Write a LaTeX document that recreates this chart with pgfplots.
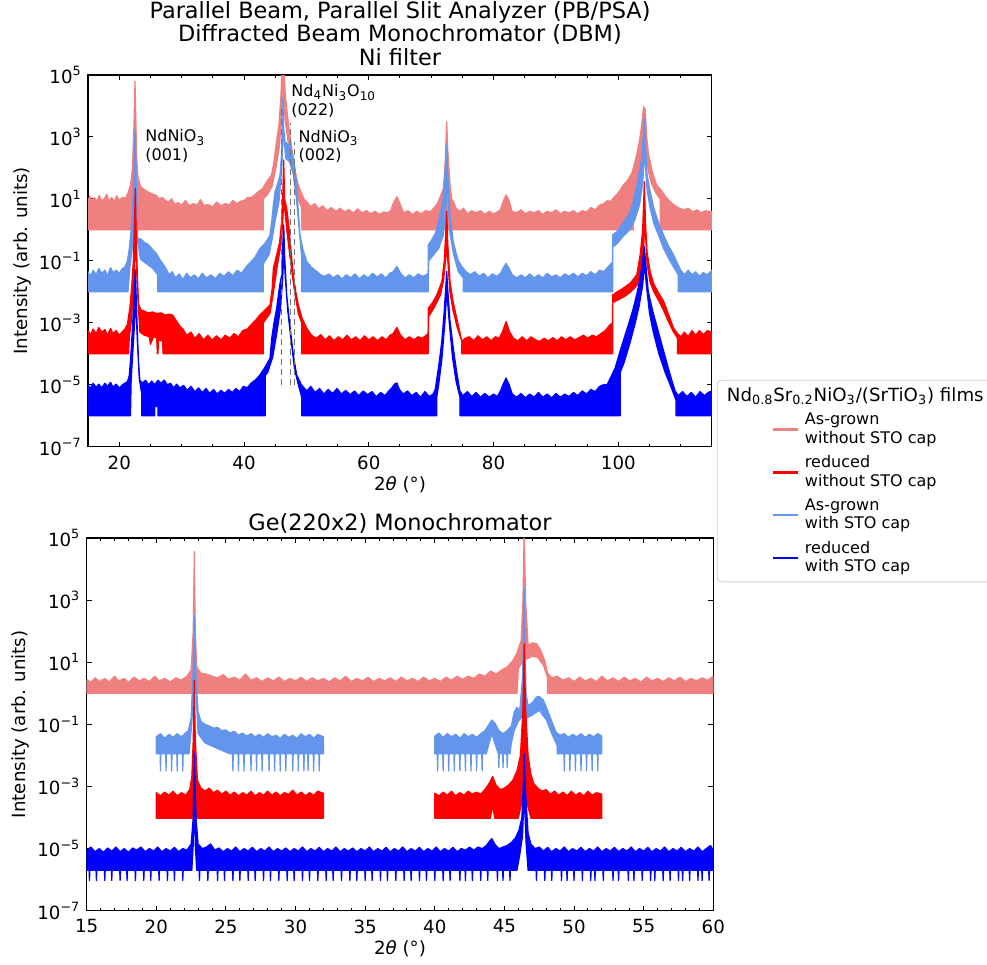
\documentclass[border=0pt]{standalone}
\usepackage{fontspec}
\setmainfont{DejaVu Sans}
\usepackage{pgfplots}
\pgfplotsset{compat=1.18}

\definecolor{agnocap}{HTML}{F08080}
\definecolor{rednocap}{HTML}{FF0000}
\definecolor{agcap}{HTML}{6495ED}
\definecolor{redcap}{HTML}{0000FF}

\newcommand{\mainfont}{\fontsize{9.1}{11.6}\selectfont}
\newcommand{\titlefont}{\fontsize{11.2}{13}\selectfont}
\newcommand{\smallfont}{\fontsize{8}{9.4}\selectfont}

\tikzset{
  band/.style={draw=#1, fill=#1, line width=0.6pt, line join=round},
  peakmark/.style={densely dashed, black!55, line width=0.5pt},
}

\begin{document}
\begin{tikzpicture}
\useasboundingbox (0pt,0pt) rectangle (493.5pt,-482.5pt);

% ---------------- Ni filter scan ----------------
\begin{axis}[
  scale only axis,
  at={(44.05pt,-223.35pt)}, anchor=south west,
  width=311.9pt, height=185.85pt,
  xmin=15, xmax=115,
  xtick={20,40,60,80,100},
  minor xtick={15,20,...,115},
  ymode=log,
  ymin=1e-7, ymax=1e5,
  ytick={1e-7,1e-5,1e-3,1e-1,1e1,1e3,1e5},
  yticklabels={10\textsuperscript{−7},10\textsuperscript{−5},10\textsuperscript{−3},10\textsuperscript{−1},10\textsuperscript{1},10\textsuperscript{3},10\textsuperscript{5}},
  yminorticks=false,
  tick align=inside,
  major tick length=2.6pt,
  minor tick length=1.5pt,
  tick style={black, line width=0.5pt},
  axis line style={line width=0.6pt},
  tick label style={font=\mainfont},
  /pgf/number format/assume math mode=true,
  xticklabel style={anchor=north, inner sep=0pt, yshift=-4.2pt},
  yticklabel style={anchor=east, inner sep=0pt, xshift=-3pt},
  label style={font=\mainfont},
  xlabel={2{\itshape θ} (°)},
  ylabel={Intensity (arb. units)},
  xlabel style={at={(axis description cs:0.5,-0.1165)}, anchor=base},
  ylabel style={at={(axis description cs:-0.1058,0.5)}, anchor=center},
  legend cell align=left,
  legend style={at={(1.008,0.18)}, anchor=north west,
    draw=black!20, rounded corners=2pt, fill=white,
    font=\smallfont, cells={align=left},
    nodes={inner sep=0pt},
    row sep=4.5pt, column sep=3pt,
    inner xsep=4pt, inner ysep=3.5pt},
  legend image code/.code={\path (-23.5pt,0pt); \draw[#1, line width=1.3pt] (0pt,0pt) -- (12.5pt,0pt);},
]

% As-grown, without STO cap
\addplot[band=agnocap, forget plot] table[row sep=\\, y expr={10^(\thisrow{L})}] {x L\\
15.0 0.95\\ 15.3 1.10\\ 15.6 0.90\\ 16.0 1.05\\ 16.4 0.92\\ 16.8 1.12\\ 17.1 0.95\\ 17.6 1.00\\ 18.0 1.15\\ 18.3 0.93\\
18.8 1.05\\ 19.2 0.92\\ 19.6 1.10\\ 20.0 0.95\\ 20.5 1.05\\ 21.0 1.02\\ 21.4 1.20\\ 21.8 1.45\\ 22.1 2.0\\ 22.35 3.4\\
22.52 4.8\\ 22.65 3.6\\ 22.8 2.3\\ 23.0 1.7\\ 23.4 1.40\\ 23.9 1.32\\ 24.4 1.25\\ 24.9 1.20\\ 25.4 1.15\\ 25.9 1.12\\
26.4 1.00\\ 26.9 1.05\\ 27.4 0.95\\ 27.9 0.90\\ 28.4 1.00\\ 28.9 0.82\\ 29.4 0.88\\ 30.0 0.80\\ 30.6 0.95\\ 31.2 0.78\\
31.8 0.85\\ 32.5 0.80\\ 33.0 0.98\\ 33.6 0.78\\ 34.2 0.82\\ 35.0 0.75\\ 35.6 0.90\\ 36.3 0.78\\ 37.0 0.85\\ 37.6 0.80\\
38.2 0.95\\ 38.8 0.85\\ 39.4 0.92\\ 40.0 0.95\\ 40.6 1.05\\ 41.2 1.05\\ 41.8 1.15\\ 42.4 1.25\\ 43.0 1.34\\ 43.6 1.55\\
44.4 1.77\\ 44.8 2.2\\ 45.2 2.85\\ 45.6 3.4\\ 45.9 4.3\\ 46.1 5.3\\ 46.4 5.3\\ 46.6 4.4\\ 46.84 3.92\\ 47.2 3.3\\
47.6 2.7\\ 47.9 2.31\\ 48.3 1.8\\ 48.7 1.45\\ 49.2 1.2\\ 49.6 1.0\\ 50.05 0.91\\ 50.7 0.75\\ 51.3 0.85\\ 52.0 0.68\\
52.6 0.78\\ 53.3 0.62\\ 54.0 0.72\\ 54.7 0.60\\ 55.4 0.70\\ 56.1 0.58\\ 56.8 0.66\\ 57.5 0.55\\ 58.2 0.68\\ 58.9 0.55\\
59.6 0.62\\ 60.3 0.52\\ 61.0 0.60\\ 61.7 0.50\\ 62.4 0.58\\ 63.0 0.55\\ 63.5 0.62\\ 63.9 0.85\\ 64.5 1.07\\ 65.1 0.80\\
65.6 0.55\\ 66.3 0.62\\ 67.0 0.50\\ 67.7 0.60\\ 68.4 0.52\\ 69.1 0.62\\ 69.8 0.58\\ 70.4 0.70\\ 71.0 0.85\\ 71.6 1.15\\
71.96 1.34\\ 72.25 2.2\\ 72.49 3.49\\ 72.65 2.6\\ 73.02 1.45\\ 73.3 1.0\\ 73.55 0.91\\ 74.0 0.7\\ 74.6 0.60\\ 75.2 0.70\\
75.8 0.52\\ 76.5 0.62\\ 77.2 0.55\\ 77.9 0.62\\ 78.6 0.50\\ 79.3 0.60\\ 80.0 0.52\\ 80.6 0.58\\ 81.1 0.65\\ 81.5 0.90\\
82.0 1.13\\ 82.5 0.95\\ 82.95 0.60\\ 83.7 0.55\\ 84.4 0.65\\ 85.1 0.52\\ 85.8 0.60\\ 86.5 0.55\\ 87.2 0.62\\ 87.9 0.50\\
88.6 0.60\\ 89.3 0.55\\ 90.0 0.65\\ 90.7 0.52\\ 91.4 0.60\\ 92.1 0.55\\ 92.8 0.62\\ 93.5 0.52\\ 94.2 0.62\\ 94.9 0.58\\
95.6 0.72\\ 96.3 0.65\\ 97.0 0.80\\ 97.7 0.85\\ 98.3 0.95\\ 98.7 0.91\\ 99.3 1.05\\ 100.0 1.2\\ 100.8 1.45\\ 101.5 1.6\\
102.2 1.85\\ 102.95 2.42\\ 103.4 2.9\\ 103.75 3.4\\ 104.05 3.98\\ 104.3 3.9\\ 104.55 3.0\\ 104.8 2.5\\ 105.4 1.9\\ 106.15 1.45\\
106.8 1.3\\ 107.5 1.1\\ 108.3 0.91\\ 109.0 0.80\\ 109.8 0.70\\ 110.5 0.65\\ 111.2 0.70\\ 111.9 0.58\\ 112.6 0.65\\ 113.3 0.55\\
114.0 0.62\\ 114.6 0.58\\ 115.0 0.60\\
115.0 0.0\\ 106.7 0.0\\ 106.7 1.0\\ 106.0 1.2\\ 105.3 1.5\\ 104.8 1.9\\ 104.4 2.6\\ 104.1 3.0\\ 103.8 2.3\\ 103.3 1.6\\
102.8 1.1\\ 102.4 0.9\\ 102.4 0.0\\ 49.24 0.0\\ 49.24 0.7\\ 48.7 1.0\\ 48.2 1.4\\ 47.7 2.0\\ 47.1 2.8\\ 46.6 3.5\\
46.3 4.5\\ 46.0 3.5\\ 45.6 2.6\\ 45.1 2.0\\ 44.5 1.4\\ 43.8 1.15\\ 43.09 1.0\\ 43.09 0.0\\ 25.3 0.0\\ 25.25 0.45\\
25.15 0.45\\ 25.1 0.0\\ 24.6 0.0\\ 24.55 0.5\\ 24.45 0.5\\ 24.4 0.0\\ 15.0 0.0\\
} -- cycle;

% As-grown, with STO cap
\addplot[band=agcap, forget plot] table[row sep=\\, y expr={10^(\thisrow{L})}] {x L\\
15.0 -1.35\\ 15.4 -1.50\\ 15.8 -1.30\\ 16.3 -1.45\\ 16.7 -1.25\\ 17.2 -1.40\\ 17.7 -1.30\\ 18.1 -1.48\\ 18.6 -1.22\\ 19.0 -1.38\\
19.5 -1.30\\ 20.0 -1.40\\ 20.5 -1.25\\ 20.9 -1.20\\ 21.3 -1.0\\ 21.6 -0.6\\ 21.9 0.0\\ 22.2 1.0\\ 22.4 2.4\\ 22.52 3.23\\
22.65 2.3\\ 22.8 0.5\\ 22.95 -0.27\\ 23.5 -0.30\\ 24.0 -0.40\\ 24.5 -0.45\\ 25.0 -0.55\\ 25.4 -0.65\\ 25.9 -0.75\\ 26.5 -0.95\\
27.0 -1.10\\ 27.5 -1.25\\ 28.0 -1.45\\ 28.5 -1.35\\ 29.0 -1.55\\ 29.6 -1.42\\ 30.2 -1.60\\ 30.8 -1.40\\ 31.4 -1.55\\ 32.0 -1.45\\
32.7 -1.58\\ 33.3 -1.40\\ 34.0 -1.55\\ 34.7 -1.45\\ 35.4 -1.58\\ 36.1 -1.40\\ 36.8 -1.50\\ 37.5 -1.35\\ 38.2 -1.48\\ 38.9 -1.30\\
39.6 -1.40\\ 40.3 -1.20\\ 41.0 -1.05\\ 41.7 -0.90\\ 42.56 -0.60\\ 43.3 -0.45\\ 43.8 -0.30\\ 44.16 -0.16\\ 44.45 0.3\\ 44.7 0.81\\
44.96 1.24\\ 45.4 1.5\\ 45.77 1.77\\ 46.0 2.4\\ 46.12 3.3\\ 46.22 4.25\\ 46.35 3.3\\ 46.55 2.85\\ 46.84 2.8\\ 47.37 2.74\\
47.9 2.31\\ 48.2 1.9\\ 48.44 1.45\\ 48.7 0.6\\ 48.97 -0.16\\ 49.4 -0.6\\ 50.05 -1.02\\ 50.8 -1.2\\ 51.65 -1.34\\ 52.3 -1.45\\
52.9 -1.50\\ 53.6 -1.42\\ 54.3 -1.55\\ 55.0 -1.45\\ 55.7 -1.58\\ 56.4 -1.45\\ 57.1 -1.55\\ 57.8 -1.42\\ 58.5 -1.58\\ 59.2 -1.45\\
59.9 -1.55\\ 60.6 -1.40\\ 61.3 -1.52\\ 62.0 -1.42\\ 62.7 -1.55\\ 63.4 -1.40\\ 63.9 -1.35\\ 64.5 -1.18\\ 65.1 -1.40\\ 65.8 -1.55\\
66.5 -1.45\\ 67.2 -1.55\\ 67.9 -1.42\\ 68.6 -1.50\\ 69.2 -1.45\\ 69.5 -1.40\\ 69.54 -0.48\\ 70.0 -0.35\\ 70.7 -0.1\\ 71.43 0.48\\
71.9 1.0\\ 72.2 1.77\\ 72.49 2.74\\ 72.65 1.8\\ 73.02 0.48\\ 73.55 -0.38\\ 74.0 -0.75\\ 74.35 -1.0\\ 75.15 -1.24\\ 75.6 -1.35\\
76.3 -1.45\\ 77.0 -1.35\\ 77.7 -1.50\\ 78.4 -1.40\\ 79.1 -1.55\\ 79.8 -1.42\\ 80.5 -1.50\\ 81.1 -1.40\\ 81.5 -1.25\\ 82.0 -1.08\\
82.5 -1.25\\ 83.0 -1.45\\ 83.7 -1.55\\ 84.4 -1.45\\ 85.1 -1.55\\ 85.8 -1.42\\ 86.5 -1.55\\ 87.2 -1.45\\ 87.9 -1.55\\ 88.6 -1.40\\
89.3 -1.52\\ 90.0 -1.45\\ 90.7 -1.55\\ 91.4 -1.42\\ 92.1 -1.50\\ 92.8 -1.40\\ 93.5 -1.52\\ 94.2 -1.40\\ 94.9 -1.48\\ 95.6 -1.35\\
96.3 -1.45\\ 97.0 -1.30\\ 97.7 -1.35\\ 98.3 -1.20\\ 98.8 -1.10\\ 99.05 -1.05\\ 99.1 -0.16\\ 99.8 -0.05\\ 100.5 0.15\\ 101.2 0.35\\
101.8 0.55\\ 102.4 0.91\\ 103.1 1.6\\ 103.75 2.31\\ 104.0 3.0\\ 104.17 3.6\\ 104.35 2.8\\ 104.6 1.8\\ 105.1 1.24\\ 105.7 0.7\\
106.5 0.2\\ 107.25 -0.16\\ 108.0 -0.5\\ 108.85 -0.80\\ 109.6 -1.13\\ 110.0 -1.30\\ 110.6 -1.45\\ 111.2 -1.30\\ 111.8 -1.45\\ 112.4 -1.35\\
113.0 -1.50\\ 113.6 -1.38\\ 114.3 -1.45\\ 115.0 -1.30\\
115.0 -2.0\\ 109.6 -2.0\\ 109.6 -1.45\\ 108.85 -1.2\\ 108.0 -0.9\\ 107.25 -0.6\\ 106.5 -0.2\\ 105.7 0.2\\ 105.1 0.7\\ 104.6 1.3\\
104.2 2.5\\ 103.9 1.5\\ 103.4 0.8\\ 102.6 0.3\\ 101.8 0.0\\ 100.8 -0.2\\ 99.8 -0.45\\ 99.1 -0.55\\ 99.1 -2.0\\ 75.15 -2.0\\
75.15 -1.55\\ 74.35 -1.35\\ 73.6 -0.8\\ 73.0 -0.1\\ 72.55 1.6\\ 72.3 0.5\\ 71.9 -0.2\\ 71.2 -0.6\\ 70.2 -0.85\\ 69.6 -1.0\\
69.54 -2.0\\ 49.24 -2.0\\ 49.24 -0.9\\ 48.8 0.1\\ 48.4 1.0\\ 47.9 1.8\\ 47.3 2.2\\ 46.7 2.3\\ 46.3 3.2\\ 46.05 2.0\\
45.6 0.9\\ 45.0 0.3\\ 44.5 -0.3\\ 44.0 -0.8\\ 43.09 -1.1\\ 43.09 -2.0\\ 26.16 -2.0\\ 26.16 -1.45\\ 25.4 -1.25\\ 24.4 -1.1\\
23.4 -0.95\\ 22.9 -0.3\\ 22.65 1.2\\ 22.45 0.8\\ 22.2 -0.4\\ 21.7 -1.2\\ 21.4 -2.0\\ 15.0 -2.0\\
} -- cycle;

% reduced, without STO cap
\addplot[band=rednocap, forget plot] table[row sep=\\, y expr={10^(\thisrow{L})}] {x L\\
15.0 -3.25\\ 15.4 -3.40\\ 15.8 -3.20\\ 16.3 -3.35\\ 16.7 -3.15\\ 17.2 -3.30\\ 17.7 -3.22\\ 18.1 -3.40\\ 18.6 -3.18\\ 19.0 -3.35\\
19.5 -3.25\\ 20.0 -3.40\\ 20.5 -3.28\\ 20.9 -3.20\\ 21.3 -3.05\\ 21.7 -2.5\\ 22.0 -1.8\\ 22.25 -1.0\\ 22.4 0.0\\ 22.57 1.34\\
22.7 0.0\\ 22.9 -1.5\\ 23.1 -2.4\\ 23.48 -2.58\\ 24.0 -2.62\\ 24.6 -2.68\\ 25.3 -2.65\\ 26.0 -2.70\\ 26.7 -2.68\\ 27.4 -2.75\\
28.0 -2.72\\ 28.56 -2.75\\ 29.2 -2.95\\ 29.7 -3.10\\ 30.2 -3.20\\ 30.8 -3.40\\ 31.5 -3.30\\ 32.1 -3.50\\ 32.8 -3.35\\ 33.5 -3.55\\
34.2 -3.40\\ 34.9 -3.55\\ 35.6 -3.42\\ 36.3 -3.55\\ 37.0 -3.40\\ 37.7 -3.50\\ 38.4 -3.35\\ 39.1 -3.45\\ 39.8 -3.25\\ 40.5 -3.20\\
41.2 -3.05\\ 41.9 -2.90\\ 42.56 -2.74\\ 43.3 -2.60\\ 44.16 -2.42\\ 44.5 -1.9\\ 44.7 -1.24\\ 45.23 -0.80\\ 45.7 -0.4\\ 46.04 0.3\\
46.22 1.2\\ 46.36 2.26\\ 46.5 1.0\\ 46.84 0.70\\ 47.2 0.1\\ 47.5 -0.6\\ 47.9 -1.45\\ 48.3 -2.0\\ 48.7 -2.42\\ 49.3 -2.85\\
50.05 -3.17\\ 50.8 -3.40\\ 51.6 -3.50\\ 52.3 -3.38\\ 53.0 -3.55\\ 53.7 -3.42\\ 54.4 -3.58\\ 55.1 -3.45\\ 55.8 -3.55\\ 56.5 -3.40\\
57.2 -3.55\\ 57.9 -3.45\\ 58.6 -3.58\\ 59.3 -3.42\\ 60.0 -3.55\\ 60.7 -3.45\\ 61.4 -3.58\\ 62.1 -3.45\\ 62.8 -3.55\\ 63.4 -3.40\\
63.9 -3.35\\ 64.5 -3.15\\ 65.1 -3.40\\ 65.8 -3.55\\ 66.5 -3.45\\ 67.2 -3.55\\ 67.9 -3.45\\ 68.6 -3.50\\ 69.2 -3.40\\ 69.5 -3.35\\
69.54 -2.53\\ 70.2 -2.35\\ 70.9 -2.1\\ 71.7 -1.67\\ 72.1 -1.0\\ 72.35 0.0\\ 72.49 0.6\\ 72.65 -0.4\\ 73.02 -1.67\\ 73.5 -2.3\\
74.1 -2.85\\ 74.6 -3.3\\ 74.9 -3.6\\ 75.4 -3.50\\ 76.1 -3.45\\ 76.8 -3.58\\ 77.5 -3.42\\ 78.2 -3.55\\ 78.9 -3.45\\ 79.6 -3.58\\
80.3 -3.45\\ 80.9 -3.50\\ 81.4 -3.30\\ 82.0 -2.96\\ 82.6 -3.30\\ 83.2 -3.50\\ 83.9 -3.58\\ 84.6 -3.45\\ 85.3 -3.58\\ 86.0 -3.45\\
86.7 -3.55\\ 87.4 -3.60\\ 88.1 -3.50\\ 88.8 -3.58\\ 89.5 -3.48\\ 90.2 -3.58\\ 90.9 -3.45\\ 91.6 -3.55\\ 92.3 -3.45\\ 93.0 -3.55\\
93.7 -3.48\\ 94.4 -3.40\\ 95.1 -3.50\\ 95.8 -3.40\\ 96.5 -3.45\\ 97.2 -3.35\\ 97.9 -3.25\\ 98.5 -3.10\\ 99.05 -3.00\\ 99.1 -2.10\\
99.8 -2.0\\ 100.5 -1.92\\ 101.2 -1.82\\ 102.0 -1.70\\ 102.95 -1.45\\ 103.5 -0.80\\ 103.9 0.0\\ 104.17 1.56\\ 104.35 0.3\\ 104.6 -0.7\\
105.1 -1.34\\ 105.7 -1.75\\ 106.5 -2.05\\ 107.25 -2.30\\ 108.0 -2.7\\ 108.85 -3.17\\ 109.5 -3.35\\ 110.0 -3.45\\ 110.6 -3.30\\ 111.2 -3.45\\
111.8 -3.25\\ 112.4 -3.40\\ 113.0 -3.25\\ 113.6 -3.38\\ 114.3 -3.25\\ 115.0 -3.30\\
115.0 -4.0\\ 109.5 -4.0\\ 109.5 -3.5\\ 108.85 -3.3\\ 108.0 -2.95\\ 107.25 -2.6\\ 106.5 -2.3\\ 105.7 -2.0\\ 105.1 -1.7\\ 104.6 -1.1\\
104.25 0.3\\ 104.0 -0.9\\ 103.5 -1.5\\ 102.95 -1.8\\ 102.0 -2.0\\ 101.0 -2.15\\ 99.1 -2.35\\ 99.1 -4.0\\ 74.9 -4.0\\ 74.9 -3.6\\
74.1 -3.1\\ 73.5 -2.6\\ 73.0 -2.0\\ 72.6 -0.8\\ 72.4 -0.8\\ 72.0 -1.6\\ 71.5 -2.1\\ 70.5 -2.5\\ 69.6 -2.8\\ 69.54 -4.0\\
49.24 -4.0\\ 49.24 -3.0\\ 48.7 -2.7\\ 48.1 -2.0\\ 47.5 -1.1\\ 46.9 -0.1\\ 46.5 0.7\\ 46.36 1.0\\ 46.2 0.2\\ 45.9 -0.5\\
45.3 -1.2\\ 44.8 -1.9\\ 44.16 -2.7\\ 43.09 -3.0\\ 43.09 -4.0\\ 27.0 -4.0\\ 26.96 -3.6\\ 26.3 -3.55\\ 26.2 -4.0\\ 26.1 -4.0\\
26.0 -3.5\\ 25.5 -3.45\\ 25.0 -3.7\\ 24.8 -3.45\\ 24.0 -3.4\\ 23.3 -3.3\\ 22.9 -2.0\\ 22.65 -0.5\\ 22.5 -0.8\\ 22.3 -2.0\\
21.9 -3.0\\ 21.6 -3.5\\ 21.5 -4.0\\ 15.0 -4.0\\
} -- cycle;

% reduced, with STO cap
\addplot[band=redcap, forget plot] table[row sep=\\, y expr={10^(\thisrow{L})}] {x L\\
15.0 -5.00\\ 15.4 -5.12\\ 15.8 -4.95\\ 16.3 -5.08\\ 16.7 -4.98\\ 17.2 -5.10\\ 17.7 -4.95\\ 18.1 -5.05\\ 18.6 -4.92\\ 19.0 -5.08\\
19.5 -4.98\\ 20.0 -5.10\\ 20.5 -5.00\\ 20.9 -4.95\\ 21.3 -4.90\\ 21.6 -4.70\\ 21.8 -4.2\\ 22.1 -3.2\\ 22.35 -2.2\\ 22.57 -1.29\\
22.72 -2.2\\ 22.9 -3.3\\ 23.1 -4.3\\ 23.3 -4.85\\ 23.7 -4.95\\ 24.2 -4.85\\ 24.7 -5.00\\ 25.2 -4.88\\ 25.7 -5.00\\ 26.2 -4.85\\
26.7 -4.95\\ 27.2 -4.85\\ 27.7 -5.00\\ 28.2 -4.95\\ 28.7 -5.10\\ 29.2 -4.98\\ 29.7 -5.10\\ 30.3 -5.02\\ 30.9 -5.18\\ 31.5 -5.05\\
32.1 -5.22\\ 32.7 -5.10\\ 33.3 -5.25\\ 33.9 -5.12\\ 34.5 -5.28\\ 35.1 -5.15\\ 35.7 -5.30\\ 36.3 -5.18\\ 36.9 -5.28\\ 37.5 -5.15\\
38.1 -5.25\\ 38.7 -5.12\\ 39.3 -5.22\\ 39.9 -5.05\\ 40.5 -5.10\\ 41.1 -4.95\\ 41.8 -4.85\\ 42.56 -4.68\\ 43.3 -4.45\\ 44.16 -4.14\\
44.43 -3.50\\ 44.8 -3.0\\ 45.23 -2.53\\ 45.7 -1.8\\ 46.04 -1.45\\ 46.2 -0.5\\ 46.36 0.16\\ 46.5 -0.8\\ 46.84 -2.1\\ 47.3 -3.0\\
47.9 -4.03\\ 48.44 -4.68\\ 49.2 -5.0\\ 50.05 -5.2\\ 50.7 -5.05\\ 51.4 -5.25\\ 52.1 -5.12\\ 52.8 -5.30\\ 53.5 -5.15\\ 54.2 -5.28\\
54.9 -5.12\\ 55.6 -5.30\\ 56.3 -5.18\\ 57.0 -5.32\\ 57.7 -5.20\\ 58.4 -5.35\\ 59.1 -5.20\\ 59.8 -5.32\\ 60.5 -5.22\\ 61.2 -5.38\\
61.9 -5.25\\ 62.6 -5.35\\ 63.2 -5.20\\ 63.7 -5.10\\ 64.1 -4.98\\ 64.5 -4.94\\ 64.9 -5.15\\ 65.5 -5.30\\ 66.2 -5.20\\ 66.9 -5.35\\
67.6 -5.25\\ 68.3 -5.40\\ 69.0 -5.22\\ 69.7 -5.38\\ 70.3 -5.30\\ 70.64 -5.15\\ 71.2 -4.4\\ 71.7 -3.6\\ 72.1 -2.6\\ 72.35 -1.8\\
72.49 -1.34\\ 72.65 -1.9\\ 73.0 -2.9\\ 73.55 -3.82\\ 74.1 -4.6\\ 74.6 -5.2\\ 75.1 -5.35\\ 75.8 -5.22\\ 76.5 -5.38\\ 77.2 -5.25\\
77.9 -5.40\\ 78.6 -5.28\\ 79.3 -5.40\\ 80.0 -5.30\\ 80.6 -5.38\\ 81.1 -5.20\\ 81.5 -5.00\\ 82.0 -4.78\\ 82.5 -5.00\\ 83.0 -5.30\\
83.7 -5.40\\ 84.4 -5.28\\ 85.1 -5.42\\ 85.8 -5.30\\ 86.5 -5.40\\ 87.2 -5.25\\ 87.9 -5.40\\ 88.6 -5.30\\ 89.3 -5.42\\ 90.0 -5.28\\
90.7 -5.40\\ 91.4 -5.30\\ 92.1 -5.38\\ 92.8 -5.25\\ 93.5 -5.35\\ 94.2 -5.20\\ 94.9 -5.30\\ 95.6 -5.15\\ 96.3 -5.22\\ 97.0 -5.05\\
97.6 -5.00\\ 98.2 -5.00\\ 98.8 -4.75\\ 99.5 -4.45\\ 100.3 -3.90\\ 101.0 -3.45\\ 101.7 -3.00\\ 102.4 -2.53\\ 103.1 -1.95\\ 103.75 -1.24\\
104.0 -0.8\\ 104.17 -0.54\\ 104.35 -1.0\\ 104.8 -1.99\\ 105.5 -2.6\\ 106.3 -3.2\\ 107.25 -3.9\\ 108.2 -4.6\\ 109.1 -5.2\\ 109.6 -5.35\\
110.3 -5.22\\ 111.0 -5.38\\ 111.7 -5.25\\ 112.4 -5.40\\ 113.1 -5.22\\ 113.8 -5.35\\ 114.4 -5.25\\ 115.0 -5.20\\
115.0 -6.0\\ 109.25 -6.0\\ 109.25 -5.5\\ 108.5 -5.1\\ 107.5 -4.6\\ 106.5 -4.0\\ 105.6 -3.3\\ 105.0 -2.7\\ 104.5 -1.8\\ 104.2 -1.1\\
103.9 -1.8\\ 103.3 -2.5\\ 102.6 -3.1\\ 101.8 -3.7\\ 100.9 -4.3\\ 100.3 -4.6\\ 100.3 -6.0\\ 74.6 -6.0\\ 74.6 -5.4\\ 74.0 -4.9\\
73.4 -4.1\\ 72.9 -3.0\\ 72.5 -2.0\\ 72.2 -3.0\\ 71.7 -4.2\\ 71.2 -5.0\\ 70.9 -5.4\\ 70.9 -6.0\\ 49.24 -6.0\\ 49.24 -5.4\\
48.7 -5.0\\ 48.1 -4.5\\ 47.5 -3.5\\ 47.0 -2.6\\ 46.6 -1.5\\ 46.38 -0.7\\ 46.2 -1.6\\ 45.8 -2.6\\ 45.2 -3.4\\ 44.6 -4.1\\
43.8 -4.6\\ 43.4 -4.7\\ 43.4 -6.0\\ 26.2 -6.0\\ 26.2 -5.7\\ 25.7 -5.7\\ 25.7 -6.0\\ 23.6 -6.0\\ 23.6 -5.3\\ 23.2 -4.8\\
22.9 -3.6\\ 22.6 -2.2\\ 22.4 -3.2\\ 22.1 -4.2\\ 21.9 -4.9\\ 21.8 -6.0\\ 15.0 -6.0\\
} -- cycle;

% reflection positions
\addplot[peakmark, forget plot] coordinates {(46.04,1e-5) (46.04,8e3)};
\addplot[peakmark, forget plot] coordinates {(47.37,1e-5) (47.37,2.75e3)};
\addplot[peakmark, forget plot] coordinates {(48.06,1e-5) (48.06,7e2)};

\node[anchor=west, align=left, inner sep=0pt, font=\smallfont] at (axis cs:24.12,5e2) {NdNiO\textsubscript{3}\\(001)};
\node[anchor=west, align=left, inner sep=0pt, font=\smallfont] at (axis cs:47.53,1.45e4) {Nd\textsubscript{4}Ni\textsubscript{3}O\textsubscript{10}\\(022)};
\node[anchor=west, align=left, inner sep=0pt, font=\smallfont] at (axis cs:48.7,4.9e2) {NdNiO\textsubscript{3}\\(002)};

\addlegendimage{empty legend}
\addlegendentry{\mainfont\hspace*{-39pt}Nd\textsubscript{0.8}Sr\textsubscript{0.2}NiO\textsubscript{3}/(SrTiO\textsubscript{3}) films\rule[-3.6pt]{0pt}{0pt}}
\addlegendimage{agnocap}
\addlegendentry{As-grown\\without STO cap}
\addlegendimage{rednocap}
\addlegendentry{reduced\\without STO cap}
\addlegendimage{agcap}
\addlegendentry{As-grown\\with STO cap}
\addlegendimage{redcap}
\addlegendentry{reduced\\with STO cap}
\end{axis}

% ---------------- Ge(220x2) monochromator scan ----------------
\begin{axis}[
  scale only axis,
  at={(43.35pt,-455.35pt)}, anchor=south west,
  width=313.3pt, height=186.35pt,
  xmin=15, xmax=60,
  xtick={15,20,...,60},
  minor xtick={15,16,...,60},
  ymode=log,
  ymin=1e-7, ymax=1e5,
  ytick={1e-7,1e-5,1e-3,1e-1,1e1,1e3,1e5},
  yticklabels={10\textsuperscript{−7},10\textsuperscript{−5},10\textsuperscript{−3},10\textsuperscript{−1},10\textsuperscript{1},10\textsuperscript{3},10\textsuperscript{5}},
  yminorticks=false,
  tick align=inside,
  major tick length=2.6pt,
  minor tick length=1.5pt,
  tick style={black, line width=0.5pt},
  axis line style={line width=0.6pt},
  tick label style={font=\mainfont},
  /pgf/number format/assume math mode=true,
  xticklabel style={anchor=north, inner sep=0pt, yshift=-4.2pt},
  yticklabel style={anchor=east, inner sep=0pt, xshift=-3pt},
  label style={font=\mainfont},
  xlabel={2{\itshape θ} (°)},
  ylabel={Intensity (arb. units)},
  xlabel style={at={(axis description cs:0.5,-0.1162)}, anchor=base},
  ylabel style={at={(axis description cs:-0.1053,0.5)}, anchor=center},
]

% As-grown, without STO cap
\addplot[band=agnocap, forget plot] table[row sep=\\, y expr={10^(\thisrow{L})}] {x L\\
15.0 0.45\\ 15.3 0.35\\ 15.6 0.50\\ 15.9 0.38\\ 16.3 0.48\\ 16.6 0.36\\ 17.0 0.55\\ 17.3 0.40\\ 17.7 0.48\\ 18.0 0.35\\
18.4 0.52\\ 18.8 0.40\\ 19.1 0.48\\ 19.5 0.38\\ 19.9 0.55\\ 20.2 0.40\\ 20.6 0.48\\ 21.0 0.36\\ 21.4 0.50\\ 21.8 0.42\\
22.2 0.55\\ 22.5 0.75\\ 22.65 2.0\\ 22.73 4.56\\ 22.8 2.0\\ 22.9 0.85\\ 23.2 0.65\\ 23.6 0.62\\ 24.0 0.55\\ 24.4 0.50\\
24.8 0.60\\ 25.2 0.45\\ 25.6 0.52\\ 26.0 0.42\\ 26.4 0.62\\ 26.8 0.42\\ 27.2 0.50\\ 27.6 0.38\\ 28.0 0.50\\ 28.4 0.40\\
28.8 0.52\\ 29.2 0.38\\ 29.6 0.48\\ 30.0 0.40\\ 30.4 0.52\\ 30.8 0.38\\ 31.2 0.50\\ 31.6 0.40\\ 32.0 0.48\\ 32.4 0.36\\
32.8 0.50\\ 33.2 0.40\\ 33.6 0.55\\ 34.0 0.38\\ 34.4 0.48\\ 34.8 0.40\\ 35.2 0.52\\ 35.6 0.38\\ 36.0 0.48\\ 36.4 0.40\\
36.8 0.50\\ 37.2 0.38\\ 37.6 0.52\\ 38.0 0.40\\ 38.4 0.48\\ 38.8 0.38\\ 39.2 0.52\\ 39.6 0.40\\ 40.0 0.48\\ 40.4 0.38\\
40.8 0.52\\ 41.2 0.42\\ 41.6 0.55\\ 42.0 0.45\\ 42.4 0.55\\ 42.8 0.48\\ 43.2 0.62\\ 43.6 0.55\\ 44.0 0.72\\ 44.4 0.62\\
44.8 0.75\\ 45.2 0.85\\ 45.6 1.05\\ 45.9 1.30\\ 46.2 1.70\\ 46.33 3.0\\ 46.42 5.3\\ 46.52 3.0\\ 46.7 1.55\\ 47.0 1.62\\
47.3 1.60\\ 47.6 1.40\\ 47.9 1.05\\ 48.1 0.65\\ 48.4 0.50\\ 48.8 0.55\\ 49.2 0.42\\ 49.6 0.50\\ 50.0 0.38\\ 50.4 0.52\\
50.8 0.40\\ 51.2 0.48\\ 51.6 0.38\\ 52.0 0.55\\ 52.4 0.40\\ 52.8 0.50\\ 53.2 0.38\\ 53.6 0.52\\ 54.0 0.40\\ 54.4 0.48\\
54.8 0.36\\ 55.2 0.52\\ 55.6 0.40\\ 56.0 0.48\\ 56.4 0.38\\ 56.8 0.50\\ 57.2 0.40\\ 57.6 0.52\\ 58.0 0.38\\ 58.4 0.48\\
58.8 0.40\\ 59.2 0.50\\ 59.6 0.42\\ 60.0 0.55\\
60.0 0.0\\ 48.1 0.0\\ 48.1 0.5\\ 47.8 0.9\\ 47.4 1.15\\ 47.0 1.2\\ 46.6 1.1\\ 46.42 2.0\\ 46.3 1.0\\ 46.0 0.8\\
45.9 0.0\\ 15.0 0.0\\
} -- cycle;

% As-grown, with STO cap (two scan windows)
\addplot[band=agcap, forget plot] table[row sep=\\, y expr={10^(\thisrow{L})}] {x L\\
20.0 -1.40\\ 20.3 -1.30\\ 20.6 -1.45\\ 20.9 -1.32\\ 21.2 -1.42\\ 21.5 -1.30\\ 21.8 -1.40\\ 22.1 -1.28\\ 22.3 -1.20\\ 22.5 -0.8\\
22.65 0.8\\ 22.73 2.52\\ 22.85 0.5\\ 23.0 -0.6\\ 23.2 -0.90\\ 23.5 -1.00\\ 23.8 -1.05\\ 24.1 -1.12\\ 24.4 -1.10\\ 24.7 -1.20\\
25.0 -1.18\\ 25.3 -1.28\\ 25.6 -1.22\\ 25.9 -1.35\\ 26.2 -1.28\\ 26.5 -1.38\\ 26.8 -1.30\\ 27.1 -1.40\\ 27.4 -1.32\\ 27.7 -1.42\\
28.0 -1.30\\ 28.3 -1.40\\ 28.6 -1.35\\ 28.9 -1.45\\ 29.2 -1.32\\ 29.5 -1.42\\ 29.8 -1.35\\ 30.1 -1.45\\ 30.4 -1.30\\ 30.7 -1.40\\
31.0 -1.32\\ 31.3 -1.45\\ 31.6 -1.32\\ 32.0 -1.40\\
32.0 -1.95\\ 31.73 -1.95\\ 31.7 -2.5\\ 31.67 -1.95\\ 31.33 -1.95\\ 31.3 -2.5\\ 31.27 -1.95\\ 30.93 -1.95\\ 30.9 -2.5\\ 30.87 -1.95\\
30.63 -1.95\\ 30.6 -2.5\\ 30.57 -1.95\\ 30.23 -1.95\\ 30.2 -2.5\\ 30.17 -1.95\\ 29.83 -1.95\\ 29.8 -2.5\\ 29.77 -1.95\\ 29.33 -1.95\\
29.3 -2.5\\ 29.27 -1.95\\ 28.93 -1.95\\ 28.9 -2.5\\ 28.87 -1.95\\ 28.53 -1.95\\ 28.5 -2.5\\ 28.47 -1.95\\ 28.13 -1.95\\ 28.1 -2.5\\
28.07 -1.95\\ 27.63 -1.95\\ 27.6 -2.5\\ 27.57 -1.95\\ 27.23 -1.95\\ 27.2 -2.5\\ 27.17 -1.95\\ 26.83 -1.95\\ 26.8 -2.5\\ 26.77 -1.95\\
26.33 -1.95\\ 26.3 -2.5\\ 26.27 -1.95\\ 25.93 -1.95\\ 25.9 -2.5\\ 25.87 -1.95\\ 25.53 -1.95\\ 25.5 -2.5\\ 25.47 -1.95\\ 25.3 -1.95\\
24.5 -1.8\\ 23.5 -1.6\\ 23.0 -1.3\\ 22.8 0.5\\ 22.73 1.0\\ 22.65 -0.3\\ 22.5 -1.2\\ 22.35 -1.95\\ 21.93 -1.95\\ 21.9 -2.5\\
21.87 -1.95\\ 21.53 -1.95\\ 21.5 -2.5\\ 21.47 -1.95\\ 21.13 -1.95\\ 21.1 -2.5\\ 21.07 -1.95\\ 20.73 -1.95\\ 20.7 -2.5\\ 20.67 -1.95\\
20.33 -1.95\\ 20.3 -2.5\\ 20.27 -1.95\\ 20.0 -1.95\\
} -- cycle;
\addplot[band=agcap, forget plot] table[row sep=\\, y expr={10^(\thisrow{L})}] {x L\\
40.0 -1.38\\ 40.3 -1.28\\ 40.6 -1.42\\ 40.9 -1.30\\ 41.2 -1.40\\ 41.5 -1.32\\ 41.8 -1.45\\ 42.1 -1.30\\ 42.4 -1.40\\ 42.7 -1.32\\
43.0 -1.42\\ 43.3 -1.30\\ 43.6 -1.20\\ 43.9 -1.00\\ 44.1 -0.86\\ 44.3 -0.95\\ 44.6 -1.20\\ 44.9 -1.30\\ 45.2 -1.20\\ 45.5 -1.05\\
45.7 -0.60\\ 45.9 -0.45\\ 46.1 -0.55\\ 46.3 0.5\\ 46.42 3.4\\ 46.55 0.0\\ 46.7 -0.40\\ 47.0 -0.30\\ 47.3 -0.12\\ 47.5 -0.10\\
47.8 -0.22\\ 48.1 -0.55\\ 48.4 -0.90\\ 48.7 -1.25\\ 49.0 -1.35\\ 49.3 -1.30\\ 49.6 -1.42\\ 49.9 -1.32\\ 50.2 -1.40\\ 50.5 -1.30\\
50.8 -1.42\\ 51.1 -1.32\\ 51.4 -1.40\\ 51.7 -1.30\\ 52.0 -1.38\\
52.0 -1.95\\ 51.73 -1.95\\ 51.7 -2.5\\ 51.67 -1.95\\ 51.33 -1.95\\ 51.3 -2.5\\ 51.27 -1.95\\ 50.93 -1.95\\ 50.9 -2.5\\ 50.87 -1.95\\
50.53 -1.95\\ 50.5 -2.5\\ 50.47 -1.95\\ 50.13 -1.95\\ 50.1 -2.5\\ 50.07 -1.95\\ 49.73 -1.95\\ 49.7 -2.5\\ 49.67 -1.95\\ 49.33 -1.95\\
49.3 -2.5\\ 49.27 -1.95\\ 48.8 -1.95\\ 48.8 -1.7\\ 48.4 -1.3\\ 48.0 -0.85\\ 47.5 -0.55\\ 47.0 -0.7\\ 46.6 -0.8\\ 46.5 -0.3\\
46.42 1.0\\ 46.35 -0.5\\ 46.2 -0.8\\ 46.0 -0.9\\ 45.7 -1.2\\ 45.5 -1.6\\ 45.4 -1.95\\ 45.23 -1.95\\ 45.2 -2.4\\ 45.17 -1.95\\
44.93 -1.95\\ 44.9 -2.4\\ 44.87 -1.95\\ 44.63 -1.95\\ 44.6 -2.4\\ 44.57 -1.95\\ 44.3 -1.6\\ 44.1 -1.3\\ 43.9 -1.6\\ 43.7 -1.95\\
43.43 -1.95\\ 43.4 -2.5\\ 43.37 -1.95\\ 43.03 -1.95\\ 43.0 -2.5\\ 42.97 -1.95\\ 42.63 -1.95\\ 42.6 -2.5\\ 42.57 -1.95\\ 42.23 -1.95\\
42.2 -2.5\\ 42.17 -1.95\\ 41.83 -1.95\\ 41.8 -2.5\\ 41.77 -1.95\\ 41.43 -1.95\\ 41.4 -2.5\\ 41.37 -1.95\\ 41.03 -1.95\\ 41.0 -2.5\\
40.97 -1.95\\ 40.63 -1.95\\ 40.6 -2.5\\ 40.57 -1.95\\ 40.23 -1.95\\ 40.2 -2.5\\ 40.17 -1.95\\ 40.0 -1.95\\
} -- cycle;

% reduced, without STO cap (two scan windows)
\addplot[band=rednocap, forget plot] table[row sep=\\, y expr={10^(\thisrow{L})}] {x L\\
20.0 -3.20\\ 20.3 -3.30\\ 20.6 -3.18\\ 20.9 -3.28\\ 21.2 -3.15\\ 21.5 -3.30\\ 21.8 -3.20\\ 22.1 -3.28\\ 22.4 -3.10\\ 22.55 -2.70\\
22.65 -1.5\\ 22.73 0.42\\ 22.8 -1.5\\ 22.95 -2.8\\ 23.2 -3.05\\ 23.5 -3.15\\ 23.8 -3.05\\ 24.1 -3.20\\ 24.4 -3.12\\ 24.7 -3.25\\
25.0 -3.15\\ 25.3 -3.28\\ 25.6 -3.18\\ 25.9 -3.30\\ 26.2 -3.20\\ 26.5 -3.28\\ 26.8 -3.15\\ 27.1 -3.30\\ 27.4 -3.20\\ 27.7 -3.28\\
28.0 -3.15\\ 28.3 -3.28\\ 28.6 -3.18\\ 28.9 -3.30\\ 29.2 -3.20\\ 29.5 -3.25\\ 29.8 -3.12\\ 30.1 -3.28\\ 30.4 -3.18\\ 30.7 -3.30\\
31.0 -3.20\\ 31.3 -3.28\\ 31.6 -3.15\\ 32.0 -3.22\\
32.0 -4.02\\ 20.0 -4.02\\
} -- cycle;
\addplot[band=rednocap, forget plot] table[row sep=\\, y expr={10^(\thisrow{L})}] {x L\\
40.0 -3.22\\ 40.3 -3.30\\ 40.6 -3.18\\ 40.9 -3.28\\ 41.2 -3.15\\ 41.5 -3.30\\ 41.8 -3.20\\ 42.1 -3.28\\ 42.4 -3.15\\ 42.7 -3.25\\
43.0 -3.18\\ 43.3 -3.25\\ 43.6 -3.10\\ 43.9 -2.90\\ 44.15 -2.68\\ 44.4 -2.95\\ 44.7 -3.10\\ 45.0 -3.05\\ 45.3 -2.95\\ 45.6 -2.80\\
45.9 -2.50\\ 46.15 -2.0\\ 46.33 -0.5\\ 46.42 1.6\\ 46.52 -0.5\\ 46.7 -2.0\\ 46.9 -2.6\\ 47.1 -2.9\\ 47.4 -3.05\\ 47.7 -3.15\\
48.0 -3.10\\ 48.3 -3.25\\ 48.6 -3.15\\ 48.9 -3.28\\ 49.2 -3.18\\ 49.5 -3.30\\ 49.8 -3.15\\ 50.1 -3.28\\ 50.4 -3.20\\ 50.7 -3.30\\
51.0 -3.15\\ 51.3 -3.28\\ 51.6 -3.20\\ 52.0 -3.25\\
52.0 -4.02\\ 46.9 -4.02\\ 46.6 -3.5\\ 46.42 -1.2\\ 46.25 -3.5\\ 46.0 -4.02\\ 44.3 -4.02\\ 44.15 -3.6\\ 44.0 -4.02\\ 40.0 -4.02\\
} -- cycle;

% reduced, with STO cap
\addplot[band=redcap, forget plot] table[row sep=\\, y expr={10^(\thisrow{L})}] {x L\\
15.0 -5.05\\ 15.3 -4.95\\ 15.6 -5.10\\ 15.9 -5.00\\ 16.2 -5.12\\ 16.5 -4.98\\ 16.8 -5.08\\ 17.1 -4.95\\ 17.4 -5.10\\ 17.7 -5.00\\
18.0 -5.12\\ 18.3 -4.98\\ 18.6 -5.05\\ 18.9 -4.95\\ 19.2 -5.10\\ 19.5 -5.00\\ 19.8 -5.08\\ 20.1 -4.95\\ 20.4 -5.10\\ 20.7 -5.00\\
21.0 -5.08\\ 21.3 -4.96\\ 21.6 -5.10\\ 21.9 -5.00\\ 22.2 -5.05\\ 22.5 -4.85\\ 22.65 -4.0\\ 22.73 -1.94\\ 22.85 -4.0\\ 23.0 -4.85\\
23.3 -5.00\\ 23.6 -4.95\\ 23.9 -4.85\\ 24.2 -5.05\\ 24.5 -4.98\\ 24.8 -5.10\\ 25.1 -5.00\\ 25.4 -5.08\\ 25.7 -4.95\\ 26.0 -5.10\\
26.3 -5.00\\ 26.6 -5.08\\ 26.9 -4.96\\ 27.2 -5.10\\ 27.5 -5.00\\ 27.8 -5.08\\ 28.1 -4.95\\ 28.4 -5.10\\ 28.7 -5.00\\ 29.0 -5.08\\
29.3 -4.98\\ 29.6 -5.10\\ 29.9 -5.00\\ 30.2 -5.08\\ 30.5 -4.95\\ 30.8 -5.10\\ 31.1 -5.00\\ 31.4 -5.08\\ 31.7 -4.96\\ 32.0 -5.10\\
32.3 -5.00\\ 32.6 -5.08\\ 32.9 -4.95\\ 33.2 -5.10\\ 33.5 -5.00\\ 33.8 -5.08\\ 34.1 -4.98\\ 34.4 -5.10\\ 34.7 -5.00\\ 35.0 -5.08\\
35.3 -4.95\\ 35.6 -5.10\\ 35.9 -5.00\\ 36.2 -5.08\\ 36.5 -4.96\\ 36.8 -5.10\\ 37.1 -5.00\\ 37.4 -5.08\\ 37.7 -4.95\\ 38.0 -5.10\\
38.3 -5.00\\ 38.6 -5.08\\ 38.9 -4.96\\ 39.2 -5.10\\ 39.5 -5.00\\ 39.8 -5.08\\ 40.1 -4.95\\ 40.4 -5.10\\ 40.7 -5.00\\ 41.0 -5.08\\
41.3 -4.96\\ 41.6 -5.10\\ 41.9 -5.00\\ 42.2 -5.05\\ 42.5 -4.95\\ 42.8 -5.05\\ 43.1 -4.95\\ 43.4 -5.00\\ 43.7 -4.90\\ 43.95 -4.75\\
44.1 -4.68\\ 44.3 -4.85\\ 44.6 -5.00\\ 44.9 -4.95\\ 45.2 -4.90\\ 45.5 -4.80\\ 45.8 -4.65\\ 46.05 -4.40\\ 46.25 -4.00\\ 46.35 -3.0\\
46.42 -1.95\\ 46.52 -3.2\\ 46.7 -4.5\\ 46.9 -4.85\\ 47.2 -5.00\\ 47.5 -4.95\\ 47.8 -5.08\\ 48.1 -4.96\\ 48.4 -5.10\\ 48.7 -5.00\\
49.0 -5.08\\ 49.3 -4.95\\ 49.6 -5.10\\ 49.9 -5.00\\ 50.2 -5.08\\ 50.5 -4.96\\ 50.8 -5.10\\ 51.1 -5.00\\ 51.4 -5.08\\ 51.7 -4.95\\
52.0 -5.10\\ 52.3 -5.00\\ 52.6 -5.08\\ 52.9 -4.96\\ 53.2 -5.10\\ 53.5 -5.00\\ 53.8 -5.08\\ 54.1 -4.95\\ 54.4 -5.10\\ 54.7 -5.00\\
55.0 -5.08\\ 55.3 -4.96\\ 55.6 -5.10\\ 55.9 -5.00\\ 56.2 -5.08\\ 56.5 -4.95\\ 56.8 -5.10\\ 57.1 -5.00\\ 57.4 -5.08\\ 57.7 -4.96\\
58.0 -5.10\\ 58.3 -5.00\\ 58.6 -5.08\\ 58.9 -4.95\\ 59.2 -5.10\\ 59.5 -5.00\\ 59.8 -4.90\\ 60.0 -5.05\\
60.0 -5.7\\ 59.73 -5.7\\ 59.7 -6.03\\ 59.67 -5.7\\ 59.23 -5.7\\ 59.2 -6.03\\ 59.17 -5.7\\ 58.93 -5.7\\ 58.9 -6.03\\ 58.87 -5.7\\
58.33 -5.7\\ 58.3 -6.03\\ 58.27 -5.7\\ 57.83 -5.7\\ 57.8 -6.03\\ 57.77 -5.7\\ 57.53 -5.7\\ 57.5 -6.03\\ 57.47 -5.7\\ 56.93 -5.7\\
56.9 -6.03\\ 56.87 -5.7\\ 56.43 -5.7\\ 56.4 -6.03\\ 56.37 -5.7\\ 55.83 -5.7\\ 55.8 -6.03\\ 55.77 -5.7\\ 55.53 -5.7\\ 55.5 -6.03\\
55.47 -5.7\\ 54.93 -5.7\\ 54.9 -6.03\\ 54.87 -5.7\\ 54.33 -5.7\\ 54.3 -6.03\\ 54.27 -5.7\\ 53.93 -5.7\\ 53.9 -6.03\\ 53.87 -5.7\\
53.23 -5.7\\ 53.2 -6.03\\ 53.17 -5.7\\ 52.83 -5.7\\ 52.8 -6.03\\ 52.77 -5.7\\ 52.13 -5.7\\ 52.1 -6.03\\ 52.07 -5.7\\ 51.53 -5.7\\
51.5 -6.03\\ 51.47 -5.7\\ 51.23 -5.7\\ 51.2 -6.03\\ 51.17 -5.7\\ 50.63 -5.7\\ 50.6 -6.03\\ 50.57 -5.7\\ 50.03 -5.7\\ 50.0 -6.03\\
49.97 -5.7\\ 49.53 -5.7\\ 49.5 -6.03\\ 49.47 -5.7\\ 49.13 -5.7\\ 49.1 -6.03\\ 49.07 -5.7\\ 48.43 -5.7\\ 48.4 -6.03\\ 48.37 -5.7\\
47.93 -5.7\\ 47.9 -6.03\\ 47.87 -5.7\\ 47.33 -5.7\\ 47.3 -6.03\\ 47.27 -5.7\\ 46.7 -5.7\\ 46.55 -4.8\\ 46.42 -3.2\\ 46.3 -4.6\\
46.1 -5.2\\ 45.9 -5.7\\ 45.43 -5.7\\ 45.4 -6.03\\ 45.37 -5.7\\ 44.93 -5.7\\ 44.9 -6.03\\ 44.87 -5.7\\ 44.53 -5.7\\ 44.5 -6.03\\
44.47 -5.7\\ 43.83 -5.7\\ 43.8 -6.03\\ 43.77 -5.7\\ 43.33 -5.7\\ 43.3 -6.03\\ 43.27 -5.7\\ 42.73 -5.7\\ 42.7 -6.03\\ 42.67 -5.7\\
42.23 -5.7\\ 42.2 -6.03\\ 42.17 -5.7\\ 41.83 -5.7\\ 41.8 -6.03\\ 41.77 -5.7\\ 41.13 -5.7\\ 41.1 -6.03\\ 41.07 -5.7\\ 40.63 -5.7\\
40.6 -6.03\\ 40.57 -5.7\\ 40.03 -5.7\\ 40.0 -6.03\\ 39.97 -5.7\\ 39.43 -5.7\\ 39.4 -6.03\\ 39.37 -5.7\\ 38.93 -5.7\\ 38.9 -6.03\\
38.87 -5.7\\ 38.33 -5.7\\ 38.3 -6.03\\ 38.27 -5.7\\ 37.83 -5.7\\ 37.8 -6.03\\ 37.77 -5.7\\ 37.23 -5.7\\ 37.2 -6.03\\ 37.17 -5.7\\
36.63 -5.7\\ 36.6 -6.03\\ 36.57 -5.7\\ 36.13 -5.7\\ 36.1 -6.03\\ 36.07 -5.7\\ 35.53 -5.7\\ 35.5 -6.03\\ 35.47 -5.7\\ 35.03 -5.7\\
35.0 -6.03\\ 34.97 -5.7\\ 34.43 -5.7\\ 34.4 -6.03\\ 34.37 -5.7\\ 33.93 -5.7\\ 33.9 -6.03\\ 33.87 -5.7\\ 33.33 -5.7\\ 33.3 -6.03\\
33.27 -5.7\\ 32.73 -5.7\\ 32.7 -6.03\\ 32.67 -5.7\\ 32.23 -5.7\\ 32.2 -6.03\\ 32.17 -5.7\\ 31.63 -5.7\\ 31.6 -6.03\\ 31.57 -5.7\\
31.03 -5.7\\ 31.0 -6.03\\ 30.97 -5.7\\ 30.53 -5.7\\ 30.5 -6.03\\ 30.47 -5.7\\ 29.93 -5.7\\ 29.9 -6.03\\ 29.87 -5.7\\ 29.43 -5.7\\
29.4 -6.03\\ 29.37 -5.7\\ 28.83 -5.7\\ 28.8 -6.03\\ 28.77 -5.7\\ 28.23 -5.7\\ 28.2 -6.03\\ 28.17 -5.7\\ 27.73 -5.7\\ 27.7 -6.03\\
27.67 -5.7\\ 27.13 -5.7\\ 27.1 -6.03\\ 27.07 -5.7\\ 26.63 -5.7\\ 26.6 -6.03\\ 26.57 -5.7\\ 26.03 -5.7\\ 26.0 -6.03\\ 25.97 -5.7\\
25.53 -5.7\\ 25.5 -6.03\\ 25.47 -5.7\\ 24.93 -5.7\\ 24.9 -6.03\\ 24.87 -5.7\\ 24.43 -5.7\\ 24.4 -6.03\\ 24.37 -5.7\\ 23.73 -5.7\\
23.7 -6.03\\ 23.67 -5.7\\ 23.13 -5.7\\ 23.1 -6.03\\ 23.07 -5.7\\ 22.9 -5.7\\ 22.8 -4.9\\ 22.73 -3.2\\ 22.65 -4.9\\ 22.55 -5.7\\
21.93 -5.7\\ 21.9 -6.03\\ 21.87 -5.7\\ 21.33 -5.7\\ 21.3 -6.03\\ 21.27 -5.7\\ 20.83 -5.7\\ 20.8 -6.03\\ 20.77 -5.7\\ 20.23 -5.7\\
20.2 -6.03\\ 20.17 -5.7\\ 19.63 -5.7\\ 19.6 -6.03\\ 19.57 -5.7\\ 19.13 -5.7\\ 19.1 -6.03\\ 19.07 -5.7\\ 18.53 -5.7\\ 18.5 -6.03\\
18.47 -5.7\\ 17.93 -5.7\\ 17.9 -6.03\\ 17.87 -5.7\\ 17.43 -5.7\\ 17.4 -6.03\\ 17.37 -5.7\\ 16.83 -5.7\\ 16.8 -6.03\\ 16.77 -5.7\\
16.33 -5.7\\ 16.3 -6.03\\ 16.27 -5.7\\ 15.73 -5.7\\ 15.7 -6.03\\ 15.67 -5.7\\ 15.23 -5.7\\ 15.2 -6.03\\ 15.17 -5.7\\ 15.0 -5.7\\
} -- cycle;
\end{axis}

% panel titles
\node[anchor=base, font=\titlefont, inner sep=0pt] at (200pt,-9pt) {Parallel Beam, Parallel Slit Analyzer (PB/PSA)};
\node[anchor=base, font=\titlefont, inner sep=0pt] at (200pt,-20.75pt) {Diffracted Beam Monochromator (DBM)};
\node[anchor=base, font=\titlefont, inner sep=0pt] at (200pt,-32.75pt) {Ni filter};
\node[anchor=base, font=\titlefont, inner sep=0pt] at (200pt,-265pt) {Ge(220x2) Monochromator};
\end{tikzpicture}
\end{document}
